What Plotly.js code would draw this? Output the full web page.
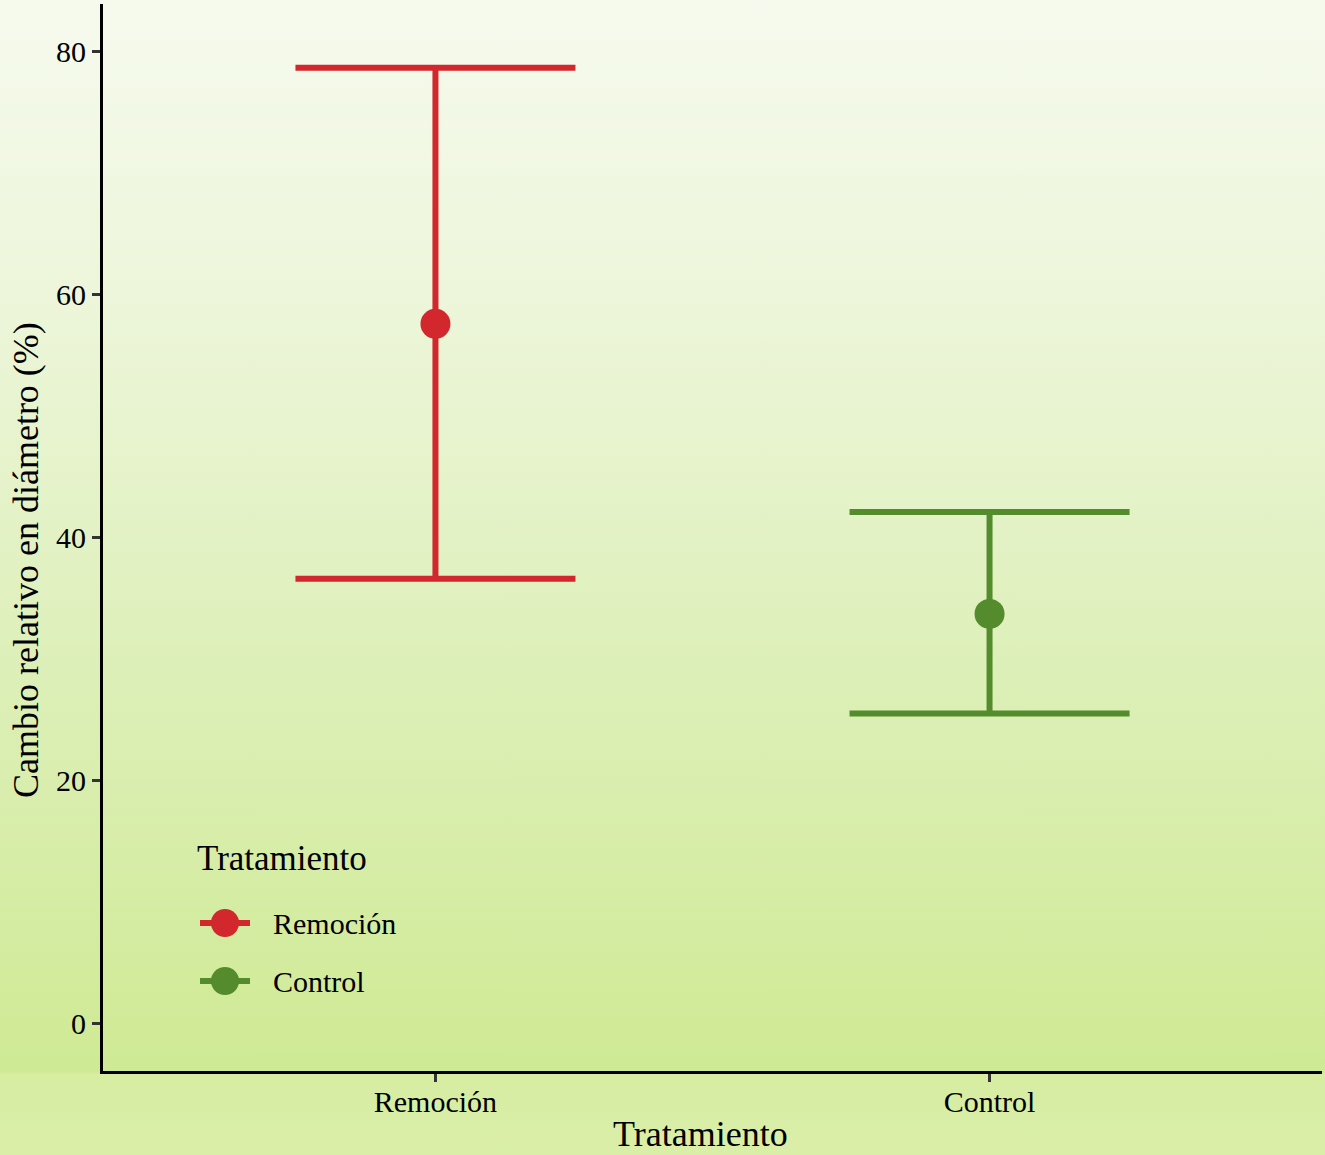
<!DOCTYPE html>
<html>
<head>
<meta charset="utf-8">
<script src="https://cdn.plot.ly/plotly-3.0.1.min.js"></script>
<style>
html, body { margin:0; padding:0; }
body {
  width:1325px; height:1155px;
  background: linear-gradient(to bottom, #f6faee 0%, #ebf5d6 30%, #dcefb6 60%, #cfea94 92.8%, #d6eda2 93%, #daeea8 100%);
}
#chart { width:1325px; height:1155px; }
</style>
</head>
<body>
<div id="chart"></div>
<script>
const categories = ["Remoción", "Control"];
const means = [57.6, 33.7];
const upper = [78.7, 42.1];
const lower = [36.6, 25.5];
const colors = ["#d2272d", "#548b2c"];
const yTicks = [0, 20, 40, 60, 80];
const xTitle = "Tratamiento";
const yTitle = "Cambio relativo en diámetro (%)";
const legendTitle = "Tratamiento";

const traces = categories.map((c, i) => ({
  type: "scatter",
  mode: "markers",
  name: c,
  x: [c],
  y: [means[i]],
  marker: { color: colors[i], size: 30 },
  error_y: {
    type: "data",
    symmetric: false,
    array: [upper[i] - means[i]],
    arrayminus: [means[i] - lower[i]],
    color: colors[i],
    thickness: 6,
    width: 140
  },
  showlegend: false,
  hoverinfo: "x+y"
}));

const font = { family: "Liberation Serif, Times New Roman, serif", color: "#000" };

// page geometry (pixels)
const W = 1325, H = 1155;
const M = { l: 103, r: 3, t: 4, b: 84 };
const pw = W - M.l - M.r, ph = H - M.t - M.b;
const px = v => (v - M.l) / pw;          // page x pixel -> paper
const py = v => (H - M.b - v) / ph;      // page y pixel -> paper

const annotations = [
  { text: xTitle, xref: "paper", yref: "paper", x: px(700), y: py(1156), xanchor: "center", yanchor: "bottom",
    showarrow: false, font: Object.assign({ size: 36 }, font) },
  { text: yTitle, xref: "paper", yref: "paper", x: px(26), y: py(560), xanchor: "center", yanchor: "middle",
    textangle: -90, showarrow: false, font: Object.assign({ size: 36 }, font) },
  { text: legendTitle, xref: "paper", yref: "paper", x: px(195), y: py(858), xanchor: "left", yanchor: "middle",
    showarrow: false, font: Object.assign({ size: 35 }, font) }
];
const shapes = [];
categories.forEach((c, i) => {
  const cy = 923 + i * 58;
  annotations.push({ text: c, xref: "paper", yref: "paper", x: px(271), y: py(cy), xanchor: "left", yanchor: "middle",
    showarrow: false, font: Object.assign({ size: 30 }, font) });
  shapes.push({ type: "line", xref: "paper", yref: "paper", xsizemode: "pixel", ysizemode: "pixel",
    xanchor: px(225), yanchor: py(cy), x0: -25, x1: 25, y0: 0, y1: 0,
    line: { color: colors[i], width: 6 } });
  shapes.push({ type: "circle", xref: "paper", yref: "paper", xsizemode: "pixel", ysizemode: "pixel",
    xanchor: px(225), yanchor: py(cy), x0: -14, x1: 14, y0: -14, y1: 14,
    fillcolor: colors[i], line: { color: colors[i], width: 0 } });
});

const layout = {
  width: W, height: H,
  paper_bgcolor: "rgba(0,0,0,0)",
  plot_bgcolor: "rgba(0,0,0,0)",
  margin: M,
  font: Object.assign({ size: 30 }, font),
  showlegend: false,
  xaxis: {
    type: "category",
    categoryarray: categories,
    range: [-0.6, 1.6],
    showline: true, linecolor: "#000", linewidth: 3,
    ticks: "outside", ticklen: 8, tickwidth: 3, tickcolor: "#333",
    ticklabelstandoff: -6,
    showgrid: false, zeroline: false,
    tickfont: Object.assign({ size: 30 }, font)
  },
  yaxis: {
    range: [-3.95, 83.95],
    tickvals: yTicks,
    ticktext: yTicks.map(String),
    showline: true, linecolor: "#000", linewidth: 3,
    ticks: "outside", ticklen: 8, tickwidth: 3, tickcolor: "#333",
    showgrid: false, zeroline: false,
    tickfont: Object.assign({ size: 30 }, font)
  },
  annotations: annotations,
  shapes: shapes
};

Plotly.newPlot("chart", traces, layout, { displayModeBar: false, staticPlot: true });
</script>
</body>
</html>
